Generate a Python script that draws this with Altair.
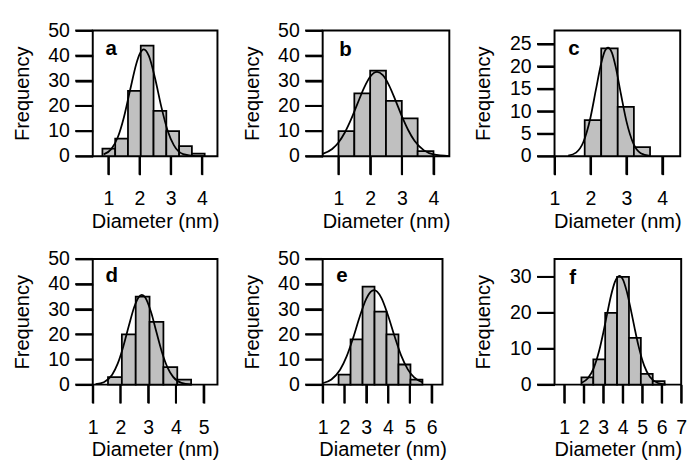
import altair as alt
import pandas as pd

a_edges = [0.81, 1.22, 1.63, 2.04, 2.45, 2.86, 3.27, 3.68, 4.09]
a_counts = [3, 7, 26, 44, 18, 10, 4, 1]
a_fit_x = [0.85, 1.1, 1.3, 1.5, 1.7, 1.9, 2.0, 2.14, 2.3, 2.5, 2.7, 2.9, 3.1, 3.4, 3.8, 4.1]
a_fit_y = [0.7, 2.9, 7.4, 15.5, 26.4, 36.9, 40.5, 42.5, 39.9, 30.9, 19.6, 10.2, 4.4, 0.84, 0.05, 0.0]

b_edges = [1.0, 1.5, 2.0, 2.5, 3.0, 3.5, 4.0]
b_counts = [10, 25, 34, 22, 15, 2]
b_fit_x = [0.5, 0.8, 1.0, 1.2, 1.4, 1.6, 1.8, 2.0, 2.22, 2.4, 2.6, 2.8, 3.0, 3.2, 3.4, 3.7, 4.0, 4.5]
b_fit_y = [0.91, 2.86, 5.44, 9.41, 14.7, 20.9, 27.0, 31.6, 33.5, 32.2, 28.1, 22.2, 15.9, 10.4, 6.12, 2.31, 0.70, 0.06]

c_edges = [1.84, 2.30, 2.76, 3.21, 3.66]
c_counts = [8, 24, 11, 2]
c_fit_x = [1.38, 1.6, 1.8, 2.0, 2.15, 2.3, 2.4, 2.49, 2.6, 2.7, 2.85, 3.0, 3.2, 3.4, 3.66]
c_fit_y = [0.12, 0.79, 3.09, 8.57, 14.7, 20.7, 23.4, 24.2, 23.0, 20.0, 13.8, 7.86, 2.73, 0.67, 0.06]

d_edges = [1.55, 2.05, 2.55, 3.05, 3.55, 4.05, 4.55]
d_counts = [3, 20, 35, 25, 7, 2]
d_fit_x = [1.1, 1.4, 1.7, 1.9, 2.1, 2.3, 2.5, 2.65, 2.77, 2.9, 3.1, 3.3, 3.5, 3.7, 3.9, 4.2, 4.55]
d_fit_y = [0.17, 0.97, 3.95, 8.33, 15.1, 23.3, 31.0, 34.7, 35.7, 34.6, 29.0, 20.8, 12.8, 6.77, 3.07, 0.70, 0.08]

e_edges = [1.73, 2.28, 2.83, 3.38, 3.93, 4.48, 5.03, 5.58]
e_counts = [4, 18, 39, 29, 20, 8, 2]
e_fit_x = [1.0, 1.4, 1.8, 2.1, 2.4, 2.7, 3.0, 3.2, 3.36, 3.5, 3.7, 4.0, 4.3, 4.6, 4.9, 5.2, 5.6]
e_fit_y = [0.54, 2.01, 5.88, 11.2, 18.6, 27.0, 34.1, 36.9, 37.6, 37.0, 34.4, 27.5, 19.2, 11.6, 6.17, 2.85, 0.82]

f_edges = [1.88, 2.49, 3.10, 3.71, 4.32, 4.93, 5.54, 6.15]
f_counts = [2, 7, 20, 30, 13, 3, 1]
f_fit_x = [1.9, 2.2, 2.5, 2.8, 3.0, 3.2, 3.4, 3.6, 3.83, 4.0, 4.2, 4.4, 4.6, 4.8, 5.1, 5.4, 5.8, 6.2]
f_fit_y = [0.54, 1.71, 4.47, 9.62, 14.4, 19.7, 24.8, 28.6, 30.3, 29.4, 26.1, 21.3, 16.0, 11.0, 5.30, 2.11, 0.46, 0.07]

panel_letters = ["a", "b", "c", "d", "e", "f"]
x_domains = [[0.5, 4.5], [0.5, 4.5], [1, 4.5], [1, 5.5], [1, 6.5], [0.5, 7]]
x_ticks = [[1, 2, 3, 4], [1, 2, 3, 4], [1, 2, 3, 4], [1, 2, 3, 4, 5], [1, 2, 3, 4, 5, 6], [1, 2, 3, 4, 5, 6, 7]]
y_domains = [[0, 50], [0, 50], [0, 28], [0, 50], [0, 50], [0, 35]]
y_ticks = [[0, 10, 20, 30, 40, 50], [0, 10, 20, 30, 40, 50], [0, 5, 10, 15, 20, 25],
           [0, 10, 20, 30, 40, 50], [0, 10, 20, 30, 40, 50], [0, 10, 20, 30]]
widths = [128, 130, 129, 128, 123, 130]
letter_pos = [(13, 25), (17, 26), (14, 25), (13, 24), (14, 24), (15, 26)]

FONT = "Liberation Sans"
HEIGHT = 129
XTICK_LEN = 19
YTICK_LEN = 18


def panel(i, edges, counts, fx, fy):
    bars = pd.DataFrame({"x0": edges[:-1], "x1": edges[1:], "n": counts})
    fit = pd.DataFrame({"x": fx, "y": fy})
    xt = pd.DataFrame({"v": x_ticks[i]})
    yt = pd.DataFrame({"v": y_ticks[i]})
    xs = alt.Scale(domain=x_domains[i], nice=False, zero=False)
    ys = alt.Scale(domain=y_domains[i], nice=False, zero=False)
    xax = alt.Axis(values=x_ticks[i], title="Diameter (nm)", ticks=True, tickSize=XTICK_LEN,
                   tickWidth=2, tickColor="black", labelPadding=15, titlePadding=3)
    yax = alt.Axis(values=y_ticks[i], title="Frequency", ticks=True, tickSize=YTICK_LEN,
                   tickWidth=2, tickColor="black", labelPadding=6, titlePadding=16)
    b = alt.Chart(bars).mark_rect(fill="#c0c0c0", stroke="black", strokeWidth=1.8).encode(
        x=alt.X("x0:Q", scale=xs, axis=xax),
        x2="x1:Q",
        y=alt.Y("n:Q", scale=ys, axis=yax),
        y2=alt.datum(0),
    )
    c = alt.Chart(fit).mark_line(color="black", strokeWidth=1.8, interpolate="monotone").encode(
        x=alt.X("x:Q", scale=xs, axis=xax),
        y=alt.Y("y:Q", scale=ys, axis=yax),
    )
    # long outward tick marks, drawn as rules through the panel's own scales
    xr = alt.Chart(xt).mark_rule(color="black", strokeWidth=2).encode(
        x=alt.X("v:Q", scale=xs, axis=xax),
        y=alt.value(HEIGHT),
        y2=alt.value(HEIGHT + XTICK_LEN),
    )
    yr = alt.Chart(yt).mark_rule(color="black", strokeWidth=2).encode(
        y=alt.Y("v:Q", scale=ys, axis=yax),
        x=alt.value(-YTICK_LEN),
        x2=alt.value(0),
    )
    lx, ly = letter_pos[i]
    t = alt.Chart(pd.DataFrame({"t": [panel_letters[i]]})).mark_text(
        font=FONT, fontSize=21, fontWeight="bold", align="left", baseline="alphabetic", color="black"
    ).encode(x=alt.value(lx), y=alt.value(ly), text="t:N")
    return alt.layer(b, c, xr, yr, t).properties(width=widths[i], height=HEIGHT)


charts = [
    panel(0, a_edges, a_counts, a_fit_x, a_fit_y),
    panel(1, b_edges, b_counts, b_fit_x, b_fit_y),
    panel(2, c_edges, c_counts, c_fit_x, c_fit_y),
    panel(3, d_edges, d_counts, d_fit_x, d_fit_y),
    panel(4, e_edges, e_counts, e_fit_x, e_fit_y),
    panel(5, f_edges, f_counts, f_fit_x, f_fit_y),
]

chart = alt.concat(*charts, columns=3, spacing={"row": 105.5, "column": 108},
                   bounds="flush", align="none").properties(
    padding={"left": 3, "top": 6, "right": 0, "bottom": 0},
    background="white",
).configure_view(stroke="black", strokeWidth=2).configure_axis(
    grid=False, domain=False,
    labelFlush=False, labelOverlap=False, labelBound=False,
    labelFont=FONT, labelFontSize=20, labelColor="black",
    titleFont=FONT, titleFontSize=20.5, titleFontWeight="normal", titleColor="black",
)

chart.save("out.html", embed_options={"renderer": "svg", "actions": False})
